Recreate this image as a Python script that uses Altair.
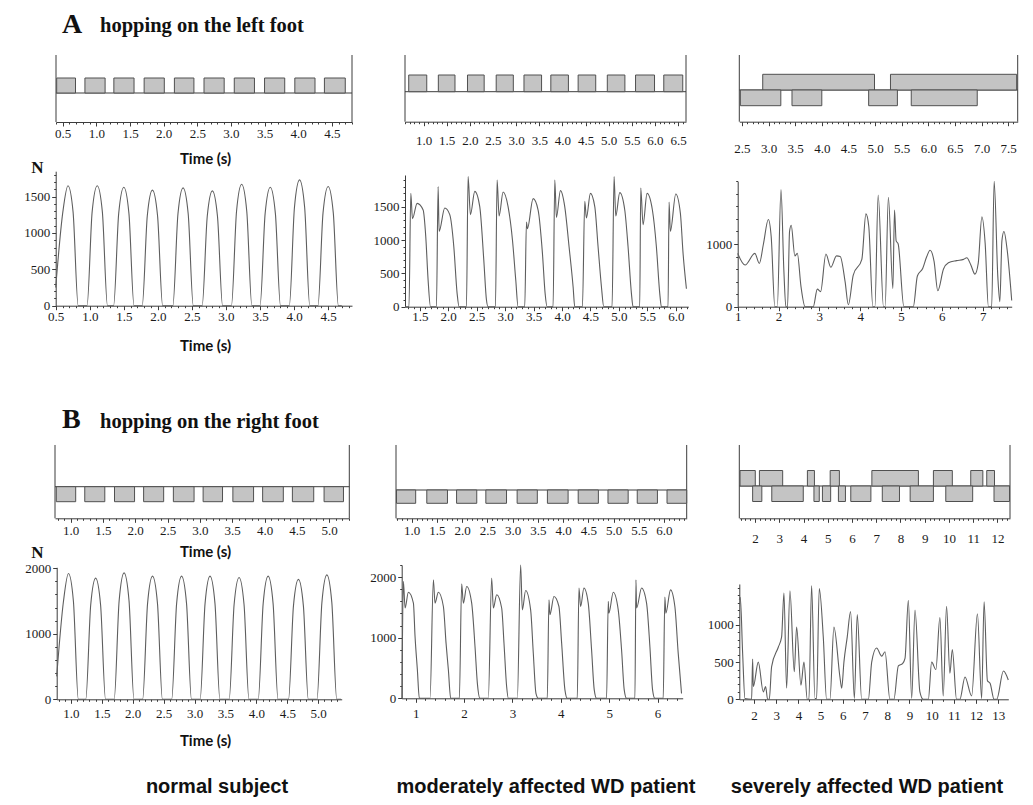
import altair as alt
import pandas as pd

# ============================================================ data
# ---- A: hopping on the left foot ----
# gait diagrams: contact intervals (s)
gaitA1_start = [0.41, 0.83, 1.26, 1.71, 2.16, 2.60, 3.05, 3.50, 3.95, 4.39]
gaitA1_end = [0.69, 1.13, 1.56, 2.01, 2.45, 2.90, 3.35, 3.80, 4.25, 4.70]
gaitA1_row = ["upper"] * 10
gaitA2_start = [0.68, 1.32, 1.95, 2.57, 3.17, 3.75, 4.34, 4.97, 5.58, 6.19]
gaitA2_end = [1.07, 1.68, 2.31, 2.94, 3.55, 4.13, 4.72, 5.35, 5.99, 6.60]
gaitA2_row = ["upper"] * 10
gaitA3_start = [2.89, 5.29, 2.47, 3.44, 4.88, 5.68]
gaitA3_end = [4.99, 7.66, 3.23, 4.00, 5.42, 6.92]
gaitA3_row = ["upper", "upper", "lower", "lower", "lower", "lower"]

# vertical ground reaction force (N) vs time (s)
forceA1_t = [0.50, 0.605, 0.68, 0.755, 0.83, 0.96, 1.035, 1.11, 1.185, 1.26, 1.35, 1.425, 1.50, 1.575, 1.65,
             1.77, 1.845, 1.92, 1.995, 2.07, 2.22, 2.295, 2.37, 2.445, 2.52, 2.65, 2.725, 2.80, 2.875, 2.95,
             3.08, 3.155, 3.23, 3.305, 3.38, 3.50, 3.575, 3.65, 3.725, 3.80, 3.93, 4.005, 4.08, 4.155, 4.23,
             4.35, 4.425, 4.50, 4.575, 4.65, 4.70]
forceA1_n = [250, 1290, 1650, 1290, 0, 0, 1290, 1650, 1290, 0, 0, 1270, 1630, 1270, 0,
             0, 1240, 1590, 1240, 0, 0, 1265, 1620, 1265, 0, 0, 1230, 1580, 1230, 0,
             0, 1300, 1670, 1300, 0, 0, 1270, 1630, 1270, 0, 0, 1350, 1730, 1350, 0,
             0, 1280, 1640, 1280, 0, 0]
forceA2_t = [1.24, 1.31, 1.342, 1.371, 1.453, 1.559, 1.605, 1.646, 1.688,
             1.793, 1.822, 1.840, 1.939, 2.027, 2.098, 2.156, 2.191,
             2.320, 2.349, 2.390, 2.467, 2.554, 2.625, 2.672, 2.701,
             2.830, 2.859, 2.894, 2.965, 3.052, 3.129, 3.187, 3.228,
             3.345, 3.375, 3.392, 3.492, 3.580, 3.656, 3.703, 3.738,
             3.843, 3.873, 3.902, 3.972, 4.048, 4.124, 4.195, 4.224,
             4.359, 4.400, 4.429, 4.499, 4.576, 4.634, 4.693, 4.734,
             4.880, 4.915, 4.945, 5.015, 5.103, 5.161, 5.220, 5.249,
             5.366, 5.384, 5.425, 5.495, 5.589, 5.659, 5.718, 5.747,
             5.864, 5.882, 5.905, 6.000, 6.081, 6.128, 6.187]
forceA2_n = [0, 0, 1700, 1320, 1550, 1450, 1050, 400, 0,
             0, 1800, 1130, 1480, 1380, 900, 200, 0,
             0, 1950, 1380, 1730, 1500, 700, 100, 0,
             0, 1900, 1360, 1720, 1500, 1000, 400, 0,
             0, 1270, 1170, 1620, 1450, 800, 200, 0,
             0, 1900, 1340, 1740, 1500, 900, 300, 0,
             0, 1580, 1330, 1700, 1500, 900, 300, 0,
             0, 1950, 1360, 1710, 1450, 900, 200, 0,
             0, 1780, 1230, 1700, 1450, 900, 200, 0,
             0, 1570, 1130, 1690, 1400, 800, 270]
forceA3_t = [1.00, 1.18, 1.42, 1.53, 1.63, 1.75, 1.82, 1.91, 1.97, 2.06, 2.13, 2.18, 2.22, 2.27,
             2.31, 2.40, 2.46, 2.55, 2.65, 2.85, 2.95, 3.03, 3.16, 3.28, 3.42, 3.51, 3.63, 3.71,
             3.83, 4.04, 4.14, 4.21, 4.31, 4.36, 4.44, 4.57, 4.61, 4.69, 4.80, 4.84, 4.88, 4.93,
             5.07, 5.30, 5.40, 5.53, 5.63, 5.71, 5.81, 5.90, 6.04, 6.16, 6.36, 6.53, 6.61, 6.71,
             6.81, 6.89, 6.98, 7.06, 7.14, 7.22, 7.28, 7.37, 7.42, 7.47, 7.52, 7.60, 7.71]
forceA3_n = [850, 665, 850, 690, 1000, 1390, 1120, 0, 0, 1870, 585, 0, 0, 1200,
             1300, 810, 850, 320, 0, 0, 280, 240, 840, 630, 810, 800, 400, 30,
             505, 755, 1480, 1280, 0, 0, 1780, 0, 0, 1745, 290, 1540, 1050, 1000,
             0, 0, 490, 610, 800, 900, 720, 255, 600, 700, 735, 755, 780, 665,
             520, 690, 1435, 1010, 0, 0, 2000, 480, 80, 1050, 1200, 900, 100]

# ---- B: hopping on the right foot ----
gaitB1_start = [0.78, 1.22, 1.68, 2.13, 2.59, 3.05, 3.51, 3.97, 4.43, 4.92]
gaitB1_end = [1.08, 1.53, 1.99, 2.44, 2.91, 3.35, 3.83, 4.29, 4.76, 5.22]
gaitB1_row = ["lower"] * 10
gaitB2_start = [0.70, 1.30, 1.89, 2.47, 3.09, 3.69, 4.30, 4.89, 5.47, 6.06]
gaitB2_end = [1.08, 1.71, 2.29, 2.88, 3.49, 4.10, 4.70, 5.29, 5.87, 6.45]
gaitB2_row = ["lower"] * 10
gaitB3_start = [1.38, 2.18, 4.16, 5.10, 6.82, 9.36, 10.90, 11.56,
                1.90, 2.69, 4.43, 4.78, 5.44, 5.95, 7.25, 8.40, 9.87, 11.86]
gaitB3_end = [2.01, 3.14, 4.45, 5.48, 8.74, 10.14, 11.40, 11.88,
              2.28, 3.99, 4.65, 5.12, 5.73, 6.78, 7.96, 9.36, 10.98, 12.50]
gaitB3_row = ["upper"] * 8 + ["lower"] * 10

forceB1_t = [0.77, 0.88, 0.96, 1.04, 1.12, 1.24, 1.32, 1.40, 1.48, 1.56, 1.70, 1.78, 1.86, 1.94, 2.02,
             2.16, 2.24, 2.32, 2.40, 2.48, 2.63, 2.71, 2.79, 2.87, 2.95, 3.09, 3.17, 3.25, 3.33, 3.41,
             3.56, 3.64, 3.72, 3.80, 3.88, 4.03, 4.11, 4.19, 4.27, 4.35, 4.52, 4.60, 4.68, 4.76, 4.84,
             4.98, 5.06, 5.14, 5.22, 5.30, 5.37]
forceB1_n = [350, 1500, 1920, 1500, 0, 0, 1440, 1850, 1440, 0, 0, 1505, 1930, 1505, 0,
             0, 1465, 1880, 1465, 0, 0, 1465, 1880, 1465, 0, 0, 1465, 1880, 1465, 0,
             0, 1450, 1860, 1450, 0, 0, 1465, 1880, 1465, 0, 0, 1430, 1830, 1430, 0,
             0, 1480, 1900, 1480, 0, 0]
forceB2_t = [0.715, 0.745, 0.780, 0.848, 0.952, 0.986, 1.034, 1.075,
             1.296, 1.365, 1.399, 1.468, 1.572, 1.627, 1.675, 1.723,
             1.902, 1.950, 1.985, 2.054, 2.157, 2.226, 2.274, 2.329,
             2.501, 2.570, 2.605, 2.674, 2.777, 2.825, 2.880, 2.915,
             3.101, 3.169, 3.204, 3.273, 3.376, 3.431, 3.486, 3.534,
             3.720, 3.755, 3.775, 3.858, 3.961, 4.017, 4.085, 4.134,
             4.340, 4.375, 4.409, 4.478, 4.567, 4.636, 4.691, 4.740,
             4.946, 4.981, 4.994, 5.084, 5.187, 5.256, 5.311, 5.360,
             5.532, 5.553, 5.567, 5.670, 5.773, 5.842, 5.897, 5.945,
             6.117, 6.151, 6.172, 6.268, 6.358, 6.427, 6.496]
forceB2_n = [0, 1930, 1490, 1750, 1570, 1020, 470, 0,
             0, 1955, 1570, 1750, 1515, 910, 470, 0,
             0, 1890, 1570, 1845, 1570, 850, 250, 0,
             0, 1985, 1490, 1710, 1490, 910, 190, 0,
             0, 2200, 1460, 1780, 1460, 745, 80, 0,
             0, 1625, 1380, 1680, 1515, 910, 140, 0,
             0, 1820, 1515, 1820, 1570, 800, 140, 0,
             0, 1600, 1405, 1750, 1460, 800, 140, 0,
             0, 1955, 1490, 1820, 1570, 850, 140, 0,
             0, 1670, 1405, 1790, 1515, 745, 80]
forceB3_t = [1.34, 1.385, 1.49, 1.595, 1.895, 1.94, 1.97, 2.195, 2.42, 2.525, 2.615, 2.69, 2.795,
             3.095, 3.245, 3.35, 3.47, 3.62, 3.815, 3.92, 4.115, 4.25, 4.40, 4.475, 4.595, 4.745,
             4.82, 4.94, 5.12, 5.27, 5.42, 5.60, 5.87, 5.95, 6.05, 6.20, 6.35, 6.52, 6.65, 6.85,
             7.15, 7.30, 7.52, 7.75, 7.90, 8.12, 8.30, 8.50, 8.69, 8.80, 8.95, 9.10, 9.25, 9.47,
             9.62, 9.85, 10.0, 10.19, 10.37, 10.52, 10.67, 10.82, 10.93, 11.12, 11.27, 11.50,
             11.80, 12.06, 12.25, 12.36, 12.51, 12.63, 12.81, 12.93, 13.23, 13.45]
forceB3_n = [1340, 1370, 620, 10, 0, 540, 170, 500, 100, 170, 0, 0, 440,
             700, 840, 1430, 150, 1460, 370, 970, 190, 500, 0, 0, 1530, 10,
             10, 1490, 840, 0, 0, 970, 300, 150, 500, 840, 1180, 10, 1140, 0,
             0, 500, 690, 580, 640, 0, 0, 450, 480, 550, 1330, 10, 1200, 100,
             0, 0, 500, 400, 1100, 45, 1250, 350, 670, 0, 0, 300,
             45, 1150, 10, 1310, 250, 215, 0, 0, 380, 260]

# tick labels
tA1 = [0.5, 1.0, 1.5, 2.0, 2.5, 3.0, 3.5, 4.0, 4.5]
tA2 = [1.0, 1.5, 2.0, 2.5, 3.0, 3.5, 4.0, 4.5, 5.0, 5.5, 6.0, 6.5]
tA3 = [2.5, 3.0, 3.5, 4.0, 4.5, 5.0, 5.5, 6.0, 6.5, 7.0, 7.5]
tFA2 = [1.5, 2.0, 2.5, 3.0, 3.5, 4.0, 4.5, 5.0, 5.5, 6.0]
tFA3 = [1, 2, 3, 4, 5, 6, 7]
tB1 = [1.0, 1.5, 2.0, 2.5, 3.0, 3.5, 4.0, 4.5, 5.0]
tB2 = [1.0, 1.5, 2.0, 2.5, 3.0, 3.5, 4.0, 4.5, 5.0, 5.5, 6.0]
tB3 = [2, 3, 4, 5, 6, 7, 8, 9, 10, 11, 12]
tFB2 = [1, 2, 3, 4, 5, 6]
tFB3 = [2, 3, 4, 5, 6, 7, 8, 9, 10, 11, 12, 13]
yA12 = [0, 500, 1000, 1500]
yA3 = [0, 1000]
yB12 = [0, 1000, 2000]
yB3 = [0, 500, 1000]

# ============================================================ style / layout
M = 8
W, H = 1017, 789
SERIF = "Liberation Serif"
AX = "#3c3c3c"
LINE = "#5e5e5e"
BAR = "#c4c4c4"
TMAJ, TMIN = 4, 2
LFS = 13


def minor(lo, hi, step):
    n = int(round((hi - lo) / step))
    return [round(lo + i * step, 3) for i in range(n + 1)]


def make_axis(orient, at_px, major, minors, fmt, label_c=None, title=None, title_xy=None):
    vals = sorted(set(round(v, 3) for v in list(major) + list(minors)))
    arr = "[" + ",".join(str(round(v, 3)) for v in major) + "]"
    test = f"indexof({arr}, datum.value) >= 0"
    kw = dict(
        orient=orient, values=vals,
        labelExpr=f"{test} ? format(datum.value, '{fmt}') : ''",
        tickSize={"condition": {"test": test, "value": TMAJ}, "value": TMIN},
        labelFont=SERIF, labelFontSize=LFS, labelColor="#1a1a1a",
        labelOverlap=False, labelFlush=False, labelBound=False,
        domainColor=AX, tickColor=AX, domainWidth=1, tickWidth=1, grid=False,
    )
    if orient == "bottom":
        kw["offset"] = (at_px - M) - H
        kw["labelPadding"] = label_c - at_px - TMAJ - 6
    else:
        kw["offset"] = -(at_px - M)
        kw["labelPadding"] = 2
    if title:
        tx, ty = title_xy
        if orient == "bottom":
            kw.update(title=title, titleX=tx - M, titleY=ty - at_px, titleFont="Lato",
                      titleFontWeight="bold", titleFontSize=15, titleColor="#111",
                      titleAlign="center", titleBaseline="middle")
        else:
            kw.update(title=title, titleX=tx - at_px, titleY=ty - M, titleFont=SERIF,
                      titleFontWeight="bold", titleFontSize=17, titleColor="#111",
                      titleAngle=0, titleAlign="center", titleBaseline="middle")
    else:
        kw["title"] = None
    return alt.Axis(**kw)


def gait_panel(start, end, row, xdom, xpx, top, mid, barh, axis_px, major, minors, fmt,
               label_c, title_xy=None):
    lo = (mid - axis_px) / barh
    hi = (mid - top) / barh
    xs = alt.Scale(domain=list(xdom), range=[xpx[0] - M, xpx[1] - M], nice=False, zero=False)
    ys = alt.Scale(domain=[lo, hi], range=[axis_px - M, top - M], nice=False, zero=False)
    df = pd.DataFrame({"s": start, "e": end, "row": row})
    ax = make_axis("bottom", axis_px, major, minors, fmt, label_c,
                   "Time (s)" if title_xy else None, title_xy)
    bars = alt.Chart(df).transform_calculate(
        b="datum.row == 'upper' ? 0 : -1", t="datum.row == 'upper' ? 1 : 0"
    ).mark_rect(fill=BAR, stroke="#505050", strokeWidth=1).encode(
        x=alt.X("s:Q", scale=xs, axis=ax), x2="e:Q",
        y=alt.Y("b:Q", scale=ys, axis=None), y2="t:Q",
    )
    base = pd.DataFrame({"s": [xdom[0]], "x1": [xdom[1]], "lvl": [0.0]})
    midline = alt.Chart(base).mark_rule(color=AX, strokeWidth=1).encode(
        x=alt.X("s:Q", scale=xs, axis=ax), x2="x1:Q",
        y=alt.Y("lvl:Q", scale=ys, axis=None))
    edges = pd.DataFrame({"s": list(xdom), "y0": [lo, lo], "y1": [hi, hi]})
    frame = alt.Chart(edges).mark_rule(color=AX, strokeWidth=1).encode(
        x=alt.X("s:Q", scale=xs, axis=ax),
        y=alt.Y("y0:Q", scale=ys, axis=None), y2="y1:Q")
    return alt.layer(frame, midline, bars)


def force_panel(t, n, xdom, xpx, ydom, ypx, xmaj, xmin, xfmt, xlab_c, ymaj, ymin,
                ytitle_xy=None, xtitle_xy=None):
    xs = alt.Scale(domain=list(xdom), range=[xpx[0] - M, xpx[1] - M], nice=False, zero=False)
    ys = alt.Scale(domain=list(ydom), range=[ypx[0] - M, ypx[1] - M], nice=False, zero=False)
    df = pd.DataFrame({"t": t, "n": n})
    xa = make_axis("bottom", ypx[0], xmaj, xmin, xfmt, xlab_c,
                   "Time (s)" if xtitle_xy else None, xtitle_xy)
    ya = make_axis("left", xpx[0], ymaj, ymin, "d", None,
                   "N" if ytitle_xy else None, ytitle_xy)
    return alt.Chart(df).mark_line(interpolate="monotone", color=LINE, strokeWidth=1.1).encode(
        x=alt.X("t:Q", scale=xs, axis=xa),
        y=alt.Y("n:Q", scale=ys, axis=ya),
    )


def label(text, x, y, font, size, weight="bold", align="left", baseline="alphabetic"):
    return alt.Chart(pd.DataFrame({"k": [0]})).mark_text(
        text=text, font=font, fontSize=size, fontWeight=weight, align=align,
        baseline=baseline, color="#111"
    ).encode(x=alt.value(x - M), y=alt.value(y - M))


panels = [
    # ---- A row: gait
    gait_panel(gaitA1_start, gaitA1_end, gaitA1_row, (0.4, 4.8), (56, 352), 55, 93, 15, 122,
               tA1, minor(0.4, 4.8, 0.1), ".1f", 133, (205, 158)),
    gait_panel(gaitA2_start, gaitA2_end, gaitA2_row, (0.6, 6.67), (405, 686), 55, 91.7, 16.7, 121.7,
               tA2, minor(0.6, 6.6, 0.1), ".1f", 140),
    gait_panel(gaitA3_start, gaitA3_end, gaitA3_row, (2.45, 7.68), (739.3, 1017.7), 55, 90, 15.7, 121.7,
               tA3, minor(2.5, 7.6, 0.1), ".1f", 148.3),
    # ---- A row: force
    force_panel(forceA1_t, forceA1_n, (0.5, 4.85), (55.7, 352), (0, 1850), (305.7, 171.2),
                tA1, minor(0.5, 4.8, 0.1), ".1f", 316.7, yA12, minor(0, 1800, 100),
                (37, 167), (205, 345)),
    force_panel(forceA2_t, forceA2_n, (1.24, 6.22), (405, 688.3), (0, 1975), (306.7, 175),
                tFA2, minor(1.3, 6.2, 0.1), ".1f", 316.7, yA12, minor(0, 1900, 100)),
    force_panel(forceA3_t, forceA3_n, (1.0, 7.71), (737.7, 1011.7), (0, 2000), (306.7, 181.3),
                tFA3, minor(1.0, 7.6, 0.2), "d", 316.7, yA3, minor(0, 2000, 200)),
    # ---- B row: gait
    gait_panel(gaitB1_start, gaitB1_end, gaitB1_row, (0.76, 5.31), (55, 349.3), 445, 486.7, 15, 518.3,
               tB1, minor(0.8, 5.3, 0.1), ".1f", 530, (205, 551.7)),
    gait_panel(gaitB2_start, gaitB2_end, gaitB2_row, (0.69, 6.45), (396, 686.7), 445, 490, 13.3, 518.3,
               tB2, minor(0.7, 6.4, 0.1), ".1f", 530),
    gait_panel(gaitB3_start, gaitB3_end, gaitB3_row, (1.35, 12.52), (739.3, 1010), 445, 486, 15.5, 518.3,
               tB3, minor(1.4, 12.4, 0.2), "d", 538.3),
    # ---- B row: force
    force_panel(forceB1_t, forceB1_n, (0.77, 5.38), (56.7, 341.7), (0, 2015), (699.3, 567.3),
                tB1, minor(0.8, 5.3, 0.1), ".1f", 713.3, yB12, minor(0, 2000, 200),
                (37, 552), (205, 740)),
    force_panel(forceB2_t, forceB2_n, (0.71, 6.52), (401.7, 682.7), (0, 2200), (698.3, 565),
                tFB2, minor(0.8, 6.4, 0.2), "d", 713, yB12, minor(0, 2200, 200)),
    force_panel(forceB3_t, forceB3_n, (1.34, 13.45), (739.3, 1008.3), (0, 1550), (699.3, 584),
                tFB3, minor(1.5, 13.0, 0.5), "d", 715, yB3, minor(0, 1500, 100)),
]

texts = [
    label("A", 62, 33, SERIF, 28),
    label("hopping on the left foot", 100, 32, SERIF, 20.5),
    label("B", 62, 428, SERIF, 28),
    label("hopping on the right foot", 100, 428, SERIF, 20.5),
    label("normal subject", 217, 787, "Liberation Sans", 20, align="center", baseline="middle"),
    label("moderately affected WD patient", 546, 787, "Liberation Sans", 20, align="center",
          baseline="middle"),
    label("severely affected WD patient", 867, 787, "Liberation Sans", 20, align="center",
          baseline="middle"),
]

chart = alt.layer(*panels, *texts).resolve_scale(
    x="independent", y="independent"
).properties(
    width=W, height=H, padding=0, autosize=alt.AutoSizeParams(type="none"),
    background="white",
).configure_view(stroke=None)

chart.save("out.html", embed_options={"renderer": "svg", "actions": False})
